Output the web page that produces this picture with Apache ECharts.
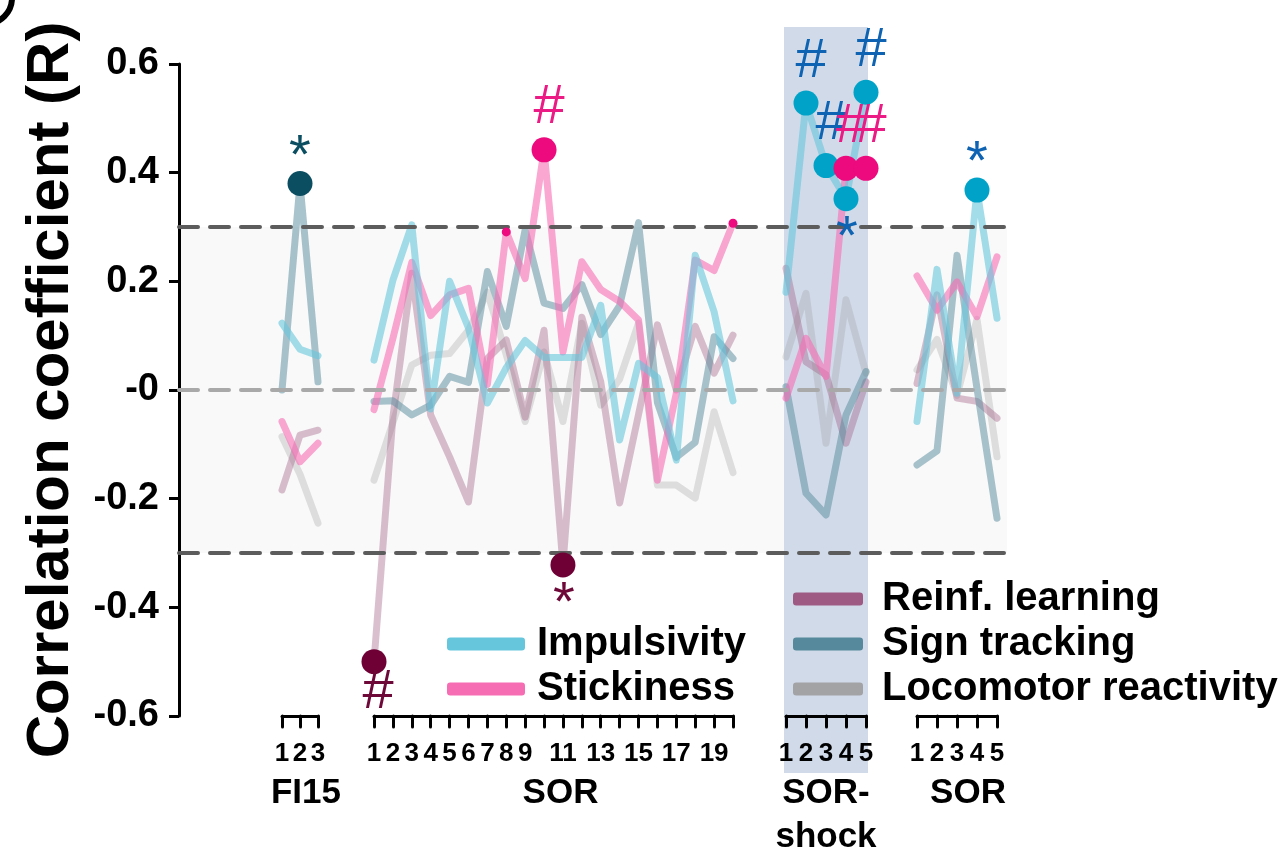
<!DOCTYPE html>
<html><head><meta charset="utf-8">
<script src="https://cdn.jsdelivr.net/npm/echarts@6/dist/echarts.min.js"></script>
<style>html,body{margin:0;padding:0;background:#fff}#c{width:1282px;height:854px}</style>
</head><body><div id="c"></div>
<script>
// ---------------- DATA ----------------
const fiSessions    = ['1','2','3'];
const sorSessions   = ['1','2','3','4','5','6','7','8','9','10','11','12','13','14','15','16','17','18','19','20'];
const shockSessions = ['1','2','3','4','5'];
const sor2Sessions  = ['1','2','3','4','5'];
const groupNames    = ['FI15','SOR','SOR-\nshock','SOR'];
const yTicks        = [-0.6,-0.4,-0.2,0,0.2,0.4,0.6];
const yTickLabels   = ['-0.6','-0.4','-0.2','-0','0.2','0.4','0.6'];
const seriesNames   = ['Impulsivity','Stickiness','Reinf. learning','Sign tracking','Locomotor reactivity'];
const threshold     = 0.3;

// FI15
const impFI   = [0.123, 0.075, 0.063];
const stickFI = [-0.058, -0.132, -0.098];
const reinfFI = [-0.184, -0.083, -0.074];
const signFI  = [0.0, 0.38, 0.015];
const locoFI  = [-0.086, -0.155, -0.245];
// SOR
const impSOR   = [0.055, 0.202, 0.304, -0.035, 0.200, 0.114, -0.024, 0.041, 0.091, 0.060, 0.060, 0.060, 0.156, -0.092, 0.049, 0.023, -0.129, 0.248, 0.144, -0.020];
const stickSOR = [-0.036, 0.095, 0.235, 0.137, 0.175, 0.187, 0.010, 0.291, 0.205, 0.442, 0.070, 0.236, 0.185, 0.163, 0.129, -0.166, -0.006, 0.239, 0.220, 0.307];
const reinfSOR = [-0.500, -0.050, 0.215, -0.046, -0.123, -0.206, 0.058, 0.092, -0.050, 0.110, -0.322, 0.134, 0.015, -0.208, -0.045, 0.120, 0.000, 0.117, 0.031, 0.101];
const signSOR  = [-0.021, -0.020, -0.046, -0.028, 0.025, 0.014, 0.218, 0.117, 0.295, 0.160, 0.150, 0.194, 0.102, 0.155, 0.308, -0.023, -0.124, -0.096, 0.098, 0.058];
const locoSOR  = [-0.166, -0.060, 0.046, 0.064, 0.067, 0.110, 0.180, 0.065, -0.058, 0.070, -0.058, 0.123, -0.028, 0.020, 0.123, -0.175, -0.175, -0.199, -0.040, -0.152];
// SOR-shock
const impShock   = [0.180, 0.528, 0.413, 0.352, 0.548];
const stickShock = [-0.015, 0.095, 0.025, 0.408, 0.408];
const reinfShock = [0.224, 0.052, 0.028, -0.098, 0.015];
const signShock  = [0.006, -0.190, -0.230, -0.046, 0.034];
const locoShock  = [0.061, 0.178, -0.098, 0.166, 0.031];
// SOR (after shock)
const impSOR2   = [-0.058, 0.222, -0.006, 0.368, 0.132];
const stickSOR2 = [0.210, 0.147, 0.199, 0.135, 0.245];
const reinfSOR2 = [0.012, 0.175, -0.015, -0.021, -0.052];
const signSOR2  = [-0.138, -0.112, 0.248, 0.003, -0.236];
const locoSOR2  = [0.037, 0.093, -0.010, 0.130, -0.123];

// significance marks: [group index, session, series, mark, side, size]
const sigMarks = [
  [0, 2,  'Sign tracking',   '*', 'top',    'big'],
  [1, 1,  'Reinf. learning', '#', 'bottom', 'big'],
  [1, 8,  'Stickiness',      '',  '',       'small'],
  [1, 10, 'Stickiness',      '#', 'top',    'big'],
  [1, 11, 'Reinf. learning', '*', 'bottom', 'big'],
  [1, 20, 'Stickiness',      '',  '',       'small'],
  [2, 2,  'Impulsivity',     '#', 'top',    'big'],
  [2, 3,  'Impulsivity',     '#', 'top',    'big'],
  [2, 4,  'Stickiness',      '#', 'top',    'big'],
  [2, 5,  'Stickiness',      '#', 'top',    'big'],
  [2, 4,  'Impulsivity',     '*', 'bottom', 'big'],
  [2, 5,  'Impulsivity',     '#', 'top',    'big'],
  [3, 4,  'Impulsivity',     '*', 'top',    'big']
];

// ---------------- STYLE / LAYOUT ----------------
const FONT = 'Liberation Sans, Arial, Helvetica, sans-serif';
const groupSessions = [fiSessions, sorSessions, shockSessions, sor2Sessions];
const groupData = [
  [impFI, stickFI, reinfFI, signFI, locoFI],
  [impSOR, stickSOR, reinfSOR, signSOR, locoSOR],
  [impShock, stickShock, reinfShock, signShock, locoShock],
  [impSOR2, stickSOR2, reinfSOR2, signSOR2, locoSOR2]
];
const groupLayout = [
  {left: 282, width: 36,  pad: 12, gap: 55},
  {left: 374, width: 359, pad: 14, gap: 55},
  {left: 786, width: 80,  pad: 0,  gap: 55},
  {left: 917, width: 80,  pad: 22, gap: 55}
];
const PLOT_TOP = 64, PLOT_H = 652;
const seriesColors = ['#66c6dc', '#f76db4', '#9e5a82', '#55899b', '#a3a3a6'];
const lineOpacity  = [0.6, 0.6, 0.38, 0.5, 0.32];
const drawOrder    = [4, 2, 3, 1, 0];
const dotColors  = {'Impulsivity':'#00a3c7','Stickiness':'#ec0a7e','Reinf. learning':'#6e0035','Sign tracking':'#0b4e62'};
const markColors = {'Impulsivity':'#0e64b2','Stickiness':'#ec1a84','Reinf. learning':'#6e0838','Sign tracking':'#0b4e62'};
const markSize   = {'#': 56, '*': 56};
const markOffset = {'#': {top: [5, -42], bottom: [4, 31]}, '*': {top: [0, -26], bottom: [1, 40]}};

const chart = echarts.init(document.getElementById('c'));

const grids = [{left: 179, top: PLOT_TOP, width: 828, height: PLOT_H, outerBoundsMode: 'none', containLabel: false}];
const xAxes = [{gridIndex: 0, type: 'value', min: 0, max: 1, show: false}];
const yAxes = [{
  gridIndex: 0, type: 'value', min: -0.6, max: 0.6, interval: 0.2,
  axisLine: {show: true, lineStyle: {color: '#000', width: 3}},
  axisTick: {show: true, length: 10, lineStyle: {color: '#000', width: 3}},
  splitLine: {show: false},
  axisLabel: {
    margin: 20, color: '#000', fontSize: 38, fontWeight: 'bold', fontFamily: FONT,
    formatter: v => { const i = yTicks.findIndex(t => Math.abs(t - v) < 1e-9); return i >= 0 ? yTickLabels[i] : ''; }
  },
  name: 'Correlation coefficient (R)', nameLocation: 'middle', nameRotate: 90, nameGap: 98,
  nameTextStyle: {color: '#000', fontSize: 60, fontWeight: 'bold', fontFamily: FONT}
}];

const series = [{
  type: 'line', xAxisIndex: 0, yAxisIndex: 0, data: [[0, 0]], symbol: 'none',
  lineStyle: {opacity: 0}, silent: true, z: 2,
  markArea: {silent: true, itemStyle: {color: 'rgba(0,0,0,0.022)'},
    data: [[{xAxis: 0, yAxis: -threshold}, {xAxis: 1, yAxis: threshold}]]},
  markLine: {silent: true, symbol: 'none', label: {show: false},
    data: [
      {yAxis: threshold,  lineStyle: {color: '#5c5c5c', width: 4, type: [19, 12], cap: 'round'}},
      {yAxis: -threshold, lineStyle: {color: '#5c5c5c', width: 4, type: [19, 12], cap: 'round'}},
      {yAxis: 0,          lineStyle: {color: '#a9a9a9', width: 4, type: [19, 12], cap: 'round'}}
    ]}
}];

groupLayout.forEach((g, gi) => {
  const ai = gi + 1;
  grids.push({left: g.left, top: PLOT_TOP, width: g.width, height: PLOT_H, outerBoundsMode: 'none', containLabel: false});
  xAxes.push({
    gridIndex: ai, type: 'category', data: groupSessions[gi], boundaryGap: false, z: 6,
    position: 'bottom', offset: 0,
    axisLine: {show: true, onZero: false, lineStyle: {color: '#000', width: 3, cap: 'round'}},
    axisTick: {show: true, interval: 0, length: 11, lineStyle: {color: '#000', width: 3, cap: 'round'}},
    splitLine: {show: false},
    axisLabel: {
      color: '#000', fontSize: 26, fontWeight: 'bold', fontFamily: FONT, margin: 25,
      interval: gi === 1 ? ((idx) => idx < 9 || idx % 2 === 0) : 0
    },
    name: groupNames[gi], nameLocation: 'middle', nameGap: g.gap, nameMoveOverlap: false,
    nameTextStyle: {color: '#000', fontSize: 35, fontWeight: 'bold', fontFamily: FONT,
      lineHeight: 44, verticalAlign: 'top', align: 'center', padding: [0, 0, 0, g.pad]}
  });
  yAxes.push({gridIndex: ai, type: 'value', min: -0.6, max: 0.6, show: false});
  drawOrder.forEach(si => {
    series.push({
      name: seriesNames[si], type: 'line', xAxisIndex: ai, yAxisIndex: ai,
      data: groupData[gi][si], symbol: 'none', z: 3, silent: true,
      itemStyle: {color: seriesColors[si]},
      lineStyle: {color: seriesColors[si], width: 7, opacity: lineOpacity[si], cap: 'round', join: 'round'}
    });
  });
  const pts = sigMarks.filter(m => m[0] === gi).map(m => {
    const si = seriesNames.indexOf(m[2]);
    const val = groupData[gi][si][m[1] - 1];
    const item = {
      value: [m[1] - 1, val],
      symbolSize: m[5] === 'big' ? 25 : 9,
      itemStyle: {color: dotColors[m[2]], opacity: 1}
    };
    if (m[3]) {
      item.label = {show: true, position: 'inside', formatter: m[3], color: markColors[m[2]],
        fontSize: markSize[m[3]], fontFamily: FONT, fontWeight: 'normal',
        offset: markOffset[m[3]][m[4]]};
    }
    return item;
  });
  series.push({type: 'scatter', xAxisIndex: ai, yAxisIndex: ai, data: pts, symbol: 'circle', z: 5, silent: true,
    itemStyle: {opacity: 1}});
});

// shaded SOR-shock column (its own hidden grid, drawn beneath the lines)
grids.push({left: 784, top: 27, width: 84, height: 746, outerBoundsMode: 'none', containLabel: false});
xAxes.push({gridIndex: 5, type: 'value', min: 0, max: 1, show: false});
yAxes.push({gridIndex: 5, type: 'value', min: 0, max: 1, show: false});
series.push({
  type: 'line', xAxisIndex: 5, yAxisIndex: 5, data: [[0, 0]], symbol: 'none',
  lineStyle: {opacity: 0}, silent: true, z: 1,
  markArea: {silent: true, itemStyle: {color: '#d1dae9', opacity: 1},
    data: [[{xAxis: 0, yAxis: 0}, {xAxis: 1, yAxis: 1}]]}
});

const legendText = {color: '#000', fontSize: 40, fontWeight: 'bold', fontFamily: FONT, lineHeight: 44};
chart.setOption({
  animation: false,
  backgroundColor: '#fff',
  grid: grids, xAxis: xAxes, yAxis: yAxes, series: series,
  legend: [
    {data: ['Impulsivity', 'Stickiness'], orient: 'vertical', left: 442, top: 617,
     itemWidth: 78, itemHeight: 13, itemGap: 1, icon: 'roundRect', selectedMode: false,
     textStyle: Object.assign({padding: [0, 0, 0, 7]}, legendText)},
    {data: ['Reinf. learning', 'Sign tracking', 'Locomotor reactivity'], orient: 'vertical', left: 788, top: 572,
     itemWidth: 70, itemHeight: 13, itemGap: 1, icon: 'roundRect', selectedMode: false,
     textStyle: Object.assign({padding: [0, 0, 0, 14]}, legendText)}
  ],
  graphic: {elements: [
    {type: 'circle', silent: true, shape: {cx: -14, cy: -2, r: 26}, style: {fill: 'none', stroke: '#000', lineWidth: 6}}
  ]}
});
</script>
</body></html>
